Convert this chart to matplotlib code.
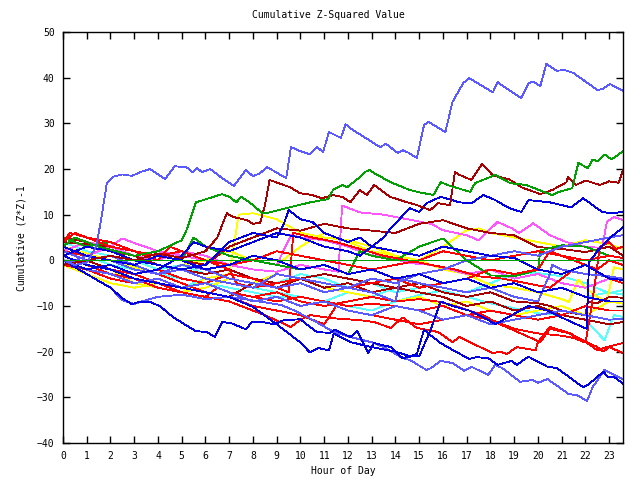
import matplotlib
matplotlib.use('Agg')
import matplotlib.pyplot as plt

# culori (paleta de tip gnuplot)
LBLUE = '#5a5aff'
BLUE = '#0000e0'
RED = '#ff0000'
DRED = '#a80000'
GREEN = '#00a000'
MAG = '#ff55ff'
CYAN = '#55ffff'
YEL = '#ffff00'

# fiecare serie: ore (x) si valoare cumulata (y)
lb1_h = [0, 0.5, 1.0, 1.4, 1.6, 1.85, 2.1, 2.5, 2.9, 3.3, 3.66, 4.3, 4.7, 5.2, 5.45, 5.65, 5.85, 6.2, 6.7, 7.2,
         7.7, 8.0, 8.3, 8.6, 9.4, 9.6, 9.9, 10.4, 10.7, 10.95, 11.2, 11.7, 11.9, 12.1, 13.35, 13.6, 14.1, 14.3, 14.5, 14.9,
         15.2, 15.4, 16.1, 16.3, 16.4, 16.85, 17.1, 18.1, 18.3, 19.3, 19.6, 19.8, 20.1, 20.35, 20.8, 21.1, 21.5, 22.5, 22.7, 23.04,
         23.58]
lb1_v = [0, -1, -0.5, 3, 8.8, 17, 18.3, 18.8, 18.5, 19.4, 20, 17.8, 20.6, 20.4, 19.3, 20.2, 19.3, 20, 18, 16.3,
         19.8, 18.4, 19.1, 20.4, 18, 24.8, 24.1, 23.2, 24.8, 23.7, 28.1, 26.8, 29.8, 28.9, 24.8, 25.5, 23.5, 24.1, 23.7, 22.4,
         29.6, 30.3, 28.1, 32.5, 34.7, 38.8, 39.9, 36.8, 39, 35.5, 38.8, 39.1, 38.2, 43, 41.5, 41.7, 41, 37.3, 37.5, 38.6,
         37.1]

g1_h = [0, 0.5, 1.5, 3, 4, 5.0, 5.2, 5.6, 6.7, 7.0, 7.3, 7.5, 7.9, 8.4, 8.7, 10.4, 11.16, 11.37, 11.75, 11.96,
        12.5, 12.7, 12.9, 13.1, 13.8, 14.6, 15.0, 15.6, 15.9, 16.3, 17.14, 17.35, 18.2, 18.83, 19.5, 20.6, 20.9, 21.44, 21.7, 22.1,
        22.3, 22.5, 22.8, 23.1, 23.58]
g1_v = [3, 5, 3, 1, 2, 4.4, 6.6, 12.7, 14.5, 13.9, 12.7, 13.9, 12.5, 10.3, 10.5, 12.7, 13.4, 15.4, 16.5, 16.0,
        18.2, 19.3, 19.8, 19.1, 17.1, 15.4, 14.9, 14.3, 17.1, 16.3, 15.0, 16.9, 18.7, 16.9, 16.5, 14.3, 15.0, 15.8, 21.3, 20.2,
        22.1, 21.7, 23.2, 22.1, 23.9]

dr1_h = [0, 1, 2, 3, 4, 5, 6, 6.5, 6.74, 6.9, 7.16, 7.75, 8.0, 8.3, 8.5, 8.7, 9.56, 9.98, 10.5, 10.9,
         11.37, 11.75, 12.1, 12.5, 12.8, 13.1, 13.77, 14.5, 14.9, 15.46, 15.8, 16.3, 16.5, 16.7, 17.2, 17.65, 18.1, 18.8, 19.3, 20.1,
         20.6, 21.2, 21.25, 21.6, 22.0, 22.6, 23.0, 23.4, 23.58]
dr1_v = [-1, 0, 1, 0, 1.5, 0.5, 2, 5, 8.3, 10.3, 9.5, 8.8, 8, 8.2, 12, 17.6, 16, 14.7, 14.3, 13.6,
         14.3, 13.9, 12.7, 15.4, 14.3, 16.5, 13.9, 12.7, 12.1, 11, 12.5, 12.1, 19.3, 18.7, 17.6, 21.1, 18.6, 17.7, 16, 14.5,
         15.4, 17.1, 18.2, 16.5, 17.5, 16.5, 17.3, 17, 19.8]

b1_h = [0, 1, 2, 3, 4, 5, 5.5, 6, 7, 8, 9, 10, 11, 12, 12.5, 13, 13.5, 13.8, 14.2, 14.6,
        15.0, 15.3, 15.6, 15.9, 16.3, 16.7, 17.2, 17.7, 18.2, 18.8, 19.3, 19.6, 20.5, 21.4, 21.9, 22.7, 23.1, 23.58]
b1_v = [0, -2, -1, -3, -2, 1, 4, 3, 2, 4, 6, 5, 3, 2, 1, 3, 5, 7, 9.2, 11.4,
        10.6, 12.5, 13.2, 13.9, 13.3, 12.7, 12.5, 14.3, 13.2, 11.4, 10.6, 13.2, 12.7, 11.6, 13.6, 10.6, 10.3, 10.6]

b2_h = [0, 0.5, 1, 1.5, 2, 2.5, 2.9, 3.2, 3.67, 4.1, 4.6, 5.05, 5.6, 6.05, 6.4, 6.7, 7.1, 7.7, 7.95, 8.4,
        8.9, 9.3, 10.0, 10.4, 10.7, 11.25, 11.45, 12.1, 12.4, 12.85, 13.1, 13.8, 14.3, 14.6, 14.9, 15.2, 15.5, 15.9, 16.4, 17.1,
        17.4, 17.9, 18.3, 18.9, 19.1, 19.6, 20.4, 20.8, 21.9, 22.1, 22.75, 22.95, 23.2, 23.58]
b2_v = [0, -1.5, -3, -4.5, -6, -8.3, -9.6, -9.1, -9.1, -10.1, -12.3, -13.8, -15.5, -15.7, -16.8, -13.5, -13.8, -15.1, -13.5, -13.5,
        -14, -13.1, -12.9, -14.6, -15.7, -15.9, -15.2, -16.8, -15.5, -20.3, -18.1, -19, -21.4, -21.1, -20.5, -15.2, -16.5, -18.1, -19.6, -21.6,
        -21.2, -21.4, -22.9, -22, -22.9, -21.1, -23.3, -23.6, -27.8, -27.3, -24.4, -25.5, -25.5, -27]

lb2_h = [0, 1, 2, 2.5, 3, 3.3, 4, 5, 6, 7, 7.9, 9.2, 9.7, 10.5, 11.4, 12.1, 13.05, 13.5, 14.3, 14.6,
         15.3, 15.5, 15.9, 16.4, 16.9, 17.2, 17.9, 18.2, 18.5, 19.25, 19.75, 20.0, 20.4, 21.3, 21.65, 22.07, 22.3, 22.8, 23.2, 23.58]
lb2_v = [0, -3, -6, -8.7, -9.6, -9, -8, -7.5, -8.5, -8, -8.7, -9.8, -10.9, -13, -15.7, -16.8, -18, -19, -21.4, -21.8,
         -24, -23.6, -22, -22.5, -24.2, -23.3, -25.1, -22.9, -23.6, -26.6, -26.2, -26.8, -26, -29.3, -29.5, -30.8, -27.8, -24, -25.1, -26]

b3_h = [0, 1, 2, 3, 4, 5, 6, 7, 8, 9, 10, 10.4, 10.75, 11.2, 11.4, 12.1, 13, 14, 14.6, 15.0,
        15.5, 15.9, 16.4, 17.1, 17.9, 18.2, 18.9, 19.6, 20.4, 21.2, 22.05, 22.15, 22.5, 23, 23.58]
b3_v = [1, -1, -2, -4, -5, -6, -7, -8, -10.2, -14, -18, -20.2, -19.2, -19.7, -16, -17.9, -19, -20, -21, -21,
        -15, -9, -10, -11, -13, -14, -12, -10, -11, -13, -15, -0.5, 2, 4.8, 7.2]

b5_h = [0, 1, 2, 3, 4, 5, 6, 7, 8, 9, 9.3, 9.5, 10, 10.5, 11, 11.5, 12, 12.5, 13, 14,
        15, 16, 17, 18, 19, 20, 21, 22, 23, 23.58]
b5_v = [1, 3, 2, 0, -1, -2, -1, 4, 6, 5, 8, 11, 9, 8.4, 6, 5, 4, 5, 3, 2,
        1, 3, 2, 1, 0.5, -2, -3, -1, -4, -4.3]

b6_h = [0, 1, 2, 3, 4, 5, 6, 7, 8, 9, 10, 11, 12, 13, 14, 15, 16, 17, 18, 19,
        20, 21, 22, 23, 23.58]
b6_v = [3, 1, 0, -1, 1, 0, -2, -1, 1, 0, -2, -1, -3, -2, -4, -3, -5, -4, -6, -5,
        -7, -6, -8, -9, -9]

lb3_h = [0, 1, 2, 3, 4, 5, 6, 7, 8, 9, 10, 11, 12, 13, 14, 14.2, 15, 16, 17, 18,
         19, 20, 20.5, 20.6, 21, 22, 23, 23.58]
lb3_v = [-1, 1, 0, -2, -3, -1, -2, -4, -5, -6, -5, -7, -6, -7, -9, -4, -5, -6, -7, -6,
         -8, -9, -3, -1, -2, -3, -3.5, -4]

lb4_h = [0, 1, 2, 3, 4, 5, 6, 7, 8, 9, 10, 11, 12, 13, 14, 15, 16, 17, 18, 19,
         20, 21, 22, 23, 23.58]
lb4_v = [2, 0, 1, -1, -3, -2, -4, -5, -6, -3, -4, -5, -6, -4, -5, -3, -2, 0, 1, 2,
         1, 3, 4, 5, 5.5]

lb5_h = [0, 1, 2, 3, 4, 5, 6, 7, 8, 9, 10, 11, 12, 13, 14, 15, 16, 17, 18, 19,
         20, 21, 22, 23, 23.58]
lb5_v = [0, -2, -3, -5, -4, -6, -5, -7, -9, -8, -10, -9, -11, -12, -10, -11, -13, -12, -14, -13,
         -12, -11, -12, -13, -12.8]

r1_h = [0, 1, 2, 3, 4, 5, 6, 7, 8, 8.5, 9.6, 10.0, 10.4, 11.4, 12.5, 13.1, 13.8, 14.3, 14.9, 15.8,
        16.4, 16.7, 17.2, 18.1, 18.4, 18.7, 19.1, 19.9, 20.0, 20.5, 21.2, 21.7, 22.07, 22.5, 22.9, 23.58]
r1_v = [1, -1, -3, -4, -6, -7, -8, -9, -11, -12, -14.6, -13, -12, -12.7, -13.1, -13.5, -14.8, -12.5, -14.8, -15.7,
        -17.9, -16.8, -18.1, -20.3, -20, -20.5, -19, -19.7, -17.9, -14.6, -15.7, -17.1, -18.1, -19.7, -19, -18.1]

r2_h = [0, 1, 2, 3, 4, 5, 6, 7, 8, 9, 10, 11, 12, 13, 14, 15, 15.9, 16.5, 17.1, 17.7,
        18.3, 18.8, 20.1, 20.5, 21.35, 21.9, 22.5, 22.75, 23.0, 23.58]
r2_v = [-1, -2, -4, -5, -4, -6, -5, -7, -8, -7, -9, -10, -9, -8, -9, -8.5, -9.1, -10, -11, -12,
        -13.8, -14.9, -17.9, -15, -16, -17.5, -19, -20, -19, -20.3]

r3_h = [0, 1, 2, 3, 4, 5, 6, 7, 8, 9, 10, 11, 11.5, 12, 13, 14, 15, 16, 17, 18,
        19, 20, 21, 21.5, 22.0, 22.2, 22.4, 22.6, 23.0, 23.3, 23.58]
r3_v = [2, 1, 0, -2, -3, -5, -7, -8, -10, -11, -12, -14, -10, -11, -12, -13, -14, -13, -12, -13,
        -15, -16, -16.5, -17, -18, -12, -5, 3, 4, 2.5, 3]

r4_h = [0, 1, 2, 3, 4, 5, 6, 7, 8, 9, 9.5, 9.7, 10.5, 11.5, 12.5, 13.5, 14.5, 15.5, 16.5, 17.5,
        18.5, 19.5, 20.5, 21, 21.5, 22, 22.5, 23, 23.58]
r4_v = [0, -2, -1, -3, -2, -4, -5, -3, -4, -6, -7, 6, 5, 4, 2.5, 1, 0, -1, -2, -3.5,
        -4, -5, -6, -4, -2, -1, -2, 0, -1]

r5_h = [0, 0.5, 1, 2, 3, 4, 4.5, 5, 6, 7, 7.3, 8, 9, 10, 11, 12, 13, 14, 15, 16,
        17, 18, 19, 20, 20.5, 21, 22, 23, 23.58]
r5_v = [4, 6, 5, 3, 2, 0, 3, 2, 0, -2, -5, -6, -5, -4, -5, -6, -5, -4, -6, -5,
        -4, -2, -3, -2, 2, 1, -1, -4, -5]

r6_h = [0, 1, 2, 3, 4, 5, 6, 6.5, 7, 8, 9, 10, 11, 12, 13, 14, 15, 16, 17, 18,
        19, 20, 21, 22, 23, 23.58]
r6_v = [1, -1, -2, -3, -5, -7, -8, -6, -7, -8, -9, -8, -9, -10, -9.5, -10, -11, -10, -12, -11,
        -12, -13, -12, -10, -11, -11]

r7_h = [0, 0.3, 1, 2, 3, 4, 5, 6, 7, 8, 9, 10, 11, 12, 13, 14, 15, 16, 17, 18,
        19, 20, 21, 22, 23, 23.58]
r7_v = [4, 6, 5, 4, 2, 1, 2, 0, -1, 0, 2, 1, 0, -1, -2, -1, 0, 2, 1, 0,
        1, 2, 1, 0, 1, 0.5]

dr2_h = [0, 2, 4, 6, 7, 8, 9, 10, 11, 12, 13, 14, 15, 16, 17, 18, 19, 20, 21, 22,
         23, 23.58]
dr2_v = [4, 3, 1, -1, 3, 5, 7, 6.5, 8, 7, 6.5, 6, 8, 8.8, 7, 6, 5.5, 2.9, 2.5, 1.8,
         3, 1]

dr3_h = [0, 1, 2, 3, 4, 5, 6, 7, 8, 9, 10, 11, 12, 13, 14, 15, 16, 17, 18, 19,
         20, 20.5, 21, 21.5, 22, 22.1, 22.5, 23, 23.58]
dr3_v = [5, 4, 2, 1, -1, -2, -3, -2, -4, -5, -4, -6, -5, -7, -6, -5, -7, -8, -7, -9,
         -9.4, -10, -11, -11.6, -12, -9, -9.4, -8, -8.2]

dr4_h = [0, 1, 2, 3, 4, 5, 6, 7, 8, 9, 10, 11, 12, 13, 14, 15, 16, 17, 18, 19,
         20, 21, 22, 23, 23.58]
dr4_v = [2, 0, -2, -4, -5, -6, -7, -8, -5, -6, -4, -3, -4, -5, -6, -7, -8, -10, -9, -11,
         -10, -12, -13, -14, -13.5]

g2_h = [0, 1, 2, 3, 4, 5, 5.5, 6, 7, 8, 9, 10, 11, 12, 12.5, 13, 14, 15, 16, 17,
        18, 19, 20, 20.1, 21, 22, 23, 23.58]
g2_v = [5, 3, 4, 2, 1, 0, 5, 3, 1, 0, -1, -2, -1, -3, 2, 1, 0, 3, 4.8, 0,
        -3.3, -3.5, -2.1, 2.2, 3.3, 3, 1, 0.5]

m1_h = [0, 1, 2, 2.5, 3, 4, 5, 6, 7, 8, 9, 10, 11, 11.6, 11.75, 12.5, 13.5, 14.5, 15.5, 16,
        17, 17.5, 18.3, 18.9, 19.2, 19.8, 20.5, 21.2, 22, 22.7, 22.9, 23.2, 23.58]
m1_v = [-1, 1, 3, 4.8, 3.8, 2, 1, 0, -1, -2, -2.5, -1, -2, -2.5, 12, 10.5, 10, 9, 8, 6.6,
        5.5, 4.4, 8.4, 7, 6, 8.1, 5.5, 4, 3, 2.7, 8.4, 9.5, 8.8]

m2_h = [0, 1, 2, 3, 4, 5, 6, 7, 8, 9, 9.6, 10, 11, 12, 12.9, 13.8, 14.6, 15.5, 16.3, 17,
        18, 19, 20, 21, 22, 23, 23.58]
m2_v = [2, 4, 3, 1, 0, 2, 1, -1, 0, -1, 5.5, 5, 4.4, 3, 1.2, 0.5, -0.6, -1, -2, -3,
        -2, -4, -3, -5, -6, -4, -5]

y1_h = [0, 1, 2, 3, 4, 5, 6, 7, 7.4, 8, 9, 10, 11, 12, 13, 14, 15, 16, 17, 18,
        19, 20, 21, 21.3, 21.7, 22, 22.5, 22.9, 23.2, 23.58]
y1_v = [2, 0, -2, -5, -6, -7, -4, -3, 10, 10.3, 9, 6, 5, 4.4, 3, 1, 0, -2, -3, -5.4,
        -6, -7, -8.5, -9.1, -4.2, -6, -8, -9, -1.5, -2]

y2_h = [0, 2, 4, 5, 6, 7, 8, 9, 10, 11, 12, 13, 14, 15, 16, 17, 17.5, 18, 19, 20,
        21, 22, 23, 23.58]
y2_v = [3, 0, -3, -1, 0, 2, 0, -1, 3, 6, 4, 2, 1, 0, 3, 6.6, 7, 6, 5, 4,
        3, 4.4, 3.5, 2.5]

y3_h = [0, 1, 2, 3, 4, 5, 6, 7, 8, 9, 10, 11, 12, 13, 14, 15, 16, 17, 18, 19,
        20, 21, 22, 23, 23.58]
y3_v = [-1, -3, -5, -6, -5, -7, -6, -4, -5, -3, -4, -6, -7, -8, -9, -8, -10, -9, -11, -12,
        -11, -10, -12, -9, -9.5]

c1_h = [0, 1, 2, 3, 4, 5, 6, 7, 8, 9, 10, 11, 12, 13, 14, 15, 16, 17, 18, 19,
        20, 21, 22, 22.8, 23.2, 23.58]
c1_v = [3, 1, -1, -2, -3, -4, -5, -6, -7, -8, -8, -9, -10, -11, -9, -7.6, -6.6, -8, -9.4, -10.5,
        -11.6, -12, -13, -17.5, -12, -12.4]

c2_h = [0, 1, 2, 3, 4, 5, 6, 7, 8, 9, 10, 11, 12, 13, 14, 15, 16, 17, 18, 19,
        20, 21, 22, 23, 23.58]
c2_v = [2, 0, -2, -4, -5, -6, -4, -5, -6, -7, -8, -9, -7, -8, -6, -5, -6, -7, -5, -3,
        -2.8, -3.5, -5, -7.2, -6.5]

c3_h = [0, 1, 2, 3, 4, 5, 6, 7, 8, 9, 10, 11, 12, 13, 14, 15, 16, 17, 18, 19,
        20, 21, 22, 23, 23.58]
c3_v = [4, 2, 1, 0, -2, -1, -3, -2, -4, -5, -3, -4, -6, -5, -7, -6, -5, -4, -6, -5,
        -7, -6, -8, -7, -7.5]

zero_level = 0
hour_ticks = list(range(24))
value_ticks = list(range(-40, 51, 10))

series = [
    (c1_h, c1_v, CYAN), (c2_h, c2_v, CYAN), (c3_h, c3_v, CYAN),
    (y1_h, y1_v, YEL), (y2_h, y2_v, YEL), (y3_h, y3_v, YEL),
    (m1_h, m1_v, MAG), (m2_h, m2_v, MAG),
    (dr2_h, dr2_v, DRED), (dr3_h, dr3_v, DRED), (dr4_h, dr4_v, DRED),
    (g2_h, g2_v, GREEN),
    (r1_h, r1_v, RED), (r2_h, r2_v, RED), (r3_h, r3_v, RED), (r4_h, r4_v, RED),
    (r5_h, r5_v, RED), (r6_h, r6_v, RED), (r7_h, r7_v, RED),
    (lb2_h, lb2_v, LBLUE), (lb3_h, lb3_v, LBLUE), (lb4_h, lb4_v, LBLUE), (lb5_h, lb5_v, LBLUE),
    (b1_h, b1_v, BLUE), (b2_h, b2_v, BLUE), (b3_h, b3_v, BLUE), (b5_h, b5_v, BLUE), (b6_h, b6_v, BLUE),
    (dr1_h, dr1_v, DRED), (g1_h, g1_v, GREEN), (lb1_h, lb1_v, LBLUE),
]

plt.rcParams['font.family'] = 'DejaVu Sans Mono'
fig = plt.figure(figsize=(6.4, 4.8), dpi=100)
ax = fig.add_axes([63 / 640, 1 - 443 / 480, 560 / 640, 411 / 480])

for hx, vy, col in series:
    ax.plot(hx, vy, color=col, lw=0.6, antialiased=False)
ax.axhline(zero_level, color=GREEN, lw=0.6, antialiased=False)

ax.set_xlim(0, 23.58)
ax.set_ylim(-40, 50)
ax.set_xticks(hour_ticks)
ax.set_yticks(value_ticks)
ax.tick_params(direction='in', length=5, width=1, top=True, right=True, labelsize=7, pad=6)
for s in ax.spines.values():
    s.set_linewidth(1)

fig.text(328 / 640, 1 - 15 / 480, 'Cumulative Z-Squared Value', ha='center', va='center', fontsize=7)
fig.text(343 / 640, 1 - 471 / 480, 'Hour of Day', ha='center', va='center', fontsize=7)
fig.text(22 / 640, 1 - 238 / 480, 'Cumulative (Z*Z)-1', ha='center', va='center', fontsize=7, rotation=90)

fig.savefig('out.png', dpi=100)
